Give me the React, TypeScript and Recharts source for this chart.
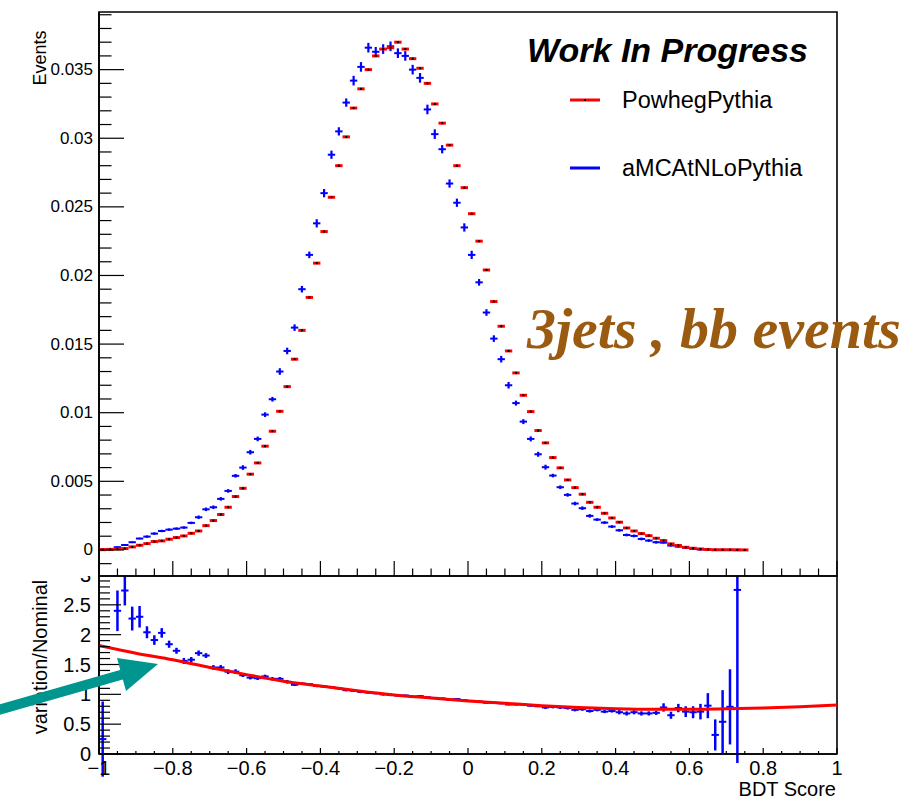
import {
  ComposedChart,
  ErrorBar,
  Line,
  ReferenceArea,
  Scatter,
  XAxis,
  YAxis,
} from "recharts";

// 100 bins of 0.02 on [-1, 1]; index i -> bin centre
const BIN_WIDTH = 0.02;

// top pad: normalised BDT score, PowhegPythia (nominal) and aMCAtNLoPythia
const powheg = [
  0.00002, 0.00004, 0.00008, 0.0001, 0.00022, 0.00034, 0.00046, 0.00061, 0.00066, 0.00078,
  0.0009, 0.00102, 0.00121, 0.00138, 0.00177, 0.00214, 0.00258, 0.00311, 0.00389, 0.00449,
  0.00552, 0.00634, 0.00756, 0.00865, 0.0101, 0.0119, 0.0139, 0.016, 0.0184, 0.0209,
  0.0232, 0.0257, 0.028, 0.0301, 0.0322, 0.0336, 0.035, 0.036, 0.0365, 0.0366,
  0.037, 0.0365, 0.0358, 0.0351, 0.034, 0.0325, 0.0311, 0.0295, 0.028, 0.0264,
  0.0245, 0.0225, 0.0204, 0.0181, 0.0163, 0.0145, 0.0129, 0.01127, 0.01008, 0.0087,
  0.0078, 0.00673, 0.00598, 0.0051, 0.00454, 0.00406, 0.00347, 0.00311, 0.00267, 0.00233,
  0.00202, 0.0016, 0.00138, 0.00119, 0.00104, 0.00085, 0.00068, 0.00044, 0.00032, 0.00019,
  0.00012, 0.00007, 0.00003, 0.00001, 0.00001, 0.00001, 0, 0,
];

const amcatnlo = [
  0.00003, 0.00005, 0.0002, 0.00036, 0.00056, 0.00083, 0.00097, 0.00119, 0.00138, 0.00148,
  0.00155, 0.00163, 0.00197, 0.00238, 0.00296, 0.00311, 0.00372, 0.0043, 0.0054, 0.006,
  0.00712, 0.00809, 0.00986, 0.01098, 0.013, 0.0145, 0.0162, 0.019, 0.0215, 0.0238,
  0.026, 0.0288, 0.0305, 0.0326, 0.0342, 0.0352, 0.0366, 0.0363, 0.0365, 0.0367,
  0.0362, 0.036, 0.035, 0.0344, 0.0321, 0.0303, 0.0292, 0.0267, 0.0253, 0.0235,
  0.0215, 0.0195, 0.0173, 0.0154, 0.0139, 0.012, 0.0107, 0.00935, 0.00809, 0.00697,
  0.00603, 0.00542, 0.00457, 0.00401, 0.00338, 0.00304, 0.00248, 0.00221, 0.00199, 0.0017,
  0.00143, 0.00109, 0.00102, 0.0008, 0.00068, 0.00056, 0.00053, 0.00032, 0.00024, 0.00015,
  0.00007, 0.00003, 0.00002, 0.00001, 0.00001, 0.00001, 0.00001,
];

const amcatnloErr = [
  0.00006, 0.00006, 0.00006, 0.00006, 0.00006, 0.00006, 0.00009, 0.00009, 0.00009, 0.00009,
  0.00009, 0.00009, 0.00009, 0.00013, 0.00013, 0.00013, 0.00013, 0.00013, 0.00013, 0.00017,
  0.00017, 0.00017, 0.00017, 0.00017, 0.00024, 0.00024, 0.00024, 0.00024, 0.00024, 0.0003,
  0.0003, 0.0003, 0.0003, 0.0003, 0.00035, 0.00035, 0.00035, 0.00035, 0.00035, 0.00035,
  0.00035, 0.00035, 0.00035, 0.00035, 0.00035, 0.00035, 0.0003, 0.0003, 0.0003, 0.0003,
  0.0003, 0.00024, 0.00024, 0.00024, 0.00024, 0.00024, 0.00018, 0.00018, 0.00018, 0.00018,
  0.00018, 0.00013, 0.00013, 0.00013, 0.00013, 0.00013, 0.00013, 0.0001, 0.0001, 0.0001,
  0.0001, 0.0001, 0.0001, 0.0001, 0.0001, 0.0001, 0.00007, 0.00007, 0.00007, 0.00007,
  0.00007, 0.00007, 0.00007, 0.00007, 0.00007, 0.00007, 0.00007,
];

// bottom pad: variation / nominal
const ratio = [
  0.25, null, 2.4, 2.74, 2.27, 2.3, 2.04, 1.91, 2.03, 1.84,
  1.73, 1.56, 1.58, 1.69, 1.65, 1.45, 1.45, 1.38, 1.38, 1.32,
  1.28, 1.27, 1.3, 1.26, 1.26, 1.21, 1.16, 1.18, 1.17, 1.14,
  1.13, 1.12, 1.1, 1.07, 1.06, 1.04, 1.03, 1.02, 1.0, 0.99,
  0.98, 0.98, 0.96, 0.97, 0.95, 0.94, 0.93, 0.91, 0.92, 0.9,
  0.89, 0.88, 0.86, 0.86, 0.85, 0.83, 0.83, 0.83, 0.81, 0.8,
  0.78, 0.79, 0.78, 0.77, 0.74, 0.75, 0.72, 0.74, 0.71, 0.72,
  0.7, 0.68, 0.7, 0.68, 0.68, 0.69, 0.78, 0.65, 0.77, 0.71,
  0.7, 0.71, 0.81, 0.32, 0.54, 0.79, 2.75,
];

const ratioErr = [
  0.63, 0, 0.34, 0.25, 0.2, 0.18, 0.1, 0.08, 0.08, 0.06,
  0.05, 0.05, 0.045, 0.045, 0.04, 0.04, 0.04, 0.04, 0.04, 0.03,
  0.03, 0.03, 0.03, 0.03, 0.03, 0.03, 0.02, 0.02, 0.02, 0.02,
  0.02, 0.02, 0.02, 0.02, 0.02, 0.02, 0.02, 0.02, 0.02, 0.02,
  0.015, 0.015, 0.015, 0.015, 0.015, 0.015, 0.015, 0.015, 0.015, 0.015,
  0.015, 0.015, 0.015, 0.015, 0.015, 0.015, 0.015, 0.015, 0.015, 0.015,
  0.025, 0.025, 0.025, 0.025, 0.025, 0.025, 0.025, 0.025, 0.025, 0.025,
  0.035, 0.035, 0.035, 0.035, 0.035, 0.035, 0.07, 0.06, 0.07, 0.09,
  0.1, 0.13, 0.21, 0.26, 0.53, 0.63, 2.9,
];

// fitted curve through the ratio
const fitX = [-1, -0.9, -0.8, -0.7, -0.6, -0.5, -0.4, -0.3, -0.2, -0.1, 0, 0.1, 0.2, 0.3, 0.4, 0.5, 0.6, 0.7, 0.8, 0.9, 1];
const fitY = [1.82, 1.69, 1.58, 1.45, 1.33, 1.22, 1.14, 1.06, 0.99, 0.94, 0.89, 0.85, 0.81, 0.78, 0.76, 0.75, 0.75, 0.76, 0.77, 0.79, 0.82];

// axis labels
const xMajorTicks = [-1, -0.8, -0.6, -0.4, -0.2, 0, 0.2, 0.4, 0.6, 0.8, 1];
const xTickLabels = ["\u22121", "\u22120.8", "\u22120.6", "\u22120.4", "\u22120.2", "0", "0.2", "0.4", "0.6", "0.8", "1"];
const topYMajorTicks = [0, 0.005, 0.01, 0.015, 0.02, 0.025, 0.03, 0.035];
const topYTickLabels = ["0", "0.005", "0.01", "0.015", "0.02", "0.025", "0.03", "0.035"];
const ratioYMajorTicks = [0, 0.5, 1, 1.5, 2, 2.5, 3];
const ratioYTickLabels = ["0", "0.5", "1", "1.5", "2", "2.5", "3"];

const TOP_Y_DOMAIN: [number, number] = [-0.0019, 0.0392];
const RATIO_Y_DOMAIN: [number, number] = [0, 3];

const FONT = '"Liberation Sans", Arial, Helvetica, sans-serif';
const RED = "#ff0000";
const BLUE = "#0000ff";

const binCenter = (i: number) => -1 + BIN_WIDTH * (i + 0.5);

const powhegData = powheg.map((y, i) => ({ x: binCenter(i), y, ex: BIN_WIDTH / 2 }));
const amcData = amcatnlo.map((y, i) => ({ x: binCenter(i), y, ex: BIN_WIDTH / 2, ey: amcatnloErr[i] }));
const ratioData = ratio
  .map((y, i) => ({ x: binCenter(i), y, ex: BIN_WIDTH / 2, ey: ratioErr[i] }))
  .filter((d) => d.y !== null);
const fitData = fitX.map((x, i) => ({ x, y: fitY[i] }));

const steps = (from: number, to: number, step: number) => {
  const out: number[] = [];
  const n = Math.round((to - from) / step);
  for (let i = 0; i <= n; i++) out.push(Number((from + i * step).toFixed(6)));
  return out;
};

const xTicks = steps(-1, 1, 0.05);
const topYTicks = steps(-0.001, 0.039, 0.001);
const ratioYTicks = steps(0, 3, 0.1);

const labelOf = (v: number, majors: number[], labels: string[]) => {
  const idx = majors.findIndex((m) => Math.abs(m - v) < 1e-9);
  return idx >= 0 ? labels[idx] : null;
};

function TopXTick({ x, y, payload }: any) {
  const major = labelOf(payload.value, xMajorTicks, xTickLabels) !== null;
  return <line x1={x} x2={x} y1={y} y2={y - (major ? 15 : 7.5)} stroke="#000" strokeWidth={1.2} />;
}

function RatioXTick({ x, y, payload }: any) {
  const label = labelOf(payload.value, xMajorTicks, xTickLabels);
  return (
    <g>
      <line x1={x} x2={x} y1={y} y2={y - (label ? 6 : 3)} stroke="#000" strokeWidth={1.2} />
      {label && (
        <text x={x} y={y + 14} textAnchor="middle" dominantBaseline="central" fontSize={20} fontFamily={FONT} fill="#000">
          {label}
        </text>
      )}
    </g>
  );
}

function TopYTick({ x, y, payload }: any) {
  const label = labelOf(payload.value, topYMajorTicks, topYTickLabels);
  return (
    <g>
      <line x1={x} x2={x + (label ? 25 : 12.5)} y1={y} y2={y} stroke="#000" strokeWidth={1.2} />
      {label && (
        <text x={x - 6} y={y} textAnchor="end" dominantBaseline="central" fontSize={17} fontFamily={FONT} fill="#000">
          {label}
        </text>
      )}
    </g>
  );
}

function RatioYTick({ x, y, payload }: any) {
  const label = labelOf(payload.value, ratioYMajorTicks, ratioYTickLabels);
  return (
    <g>
      <line x1={x} x2={x + (label ? 22 : 11)} y1={y} y2={y} stroke="#000" strokeWidth={1.2} />
      {label && (
        <text x={x - 8} y={y} textAnchor="end" dominantBaseline="central" fontSize={20} fontFamily={FONT} fill="#000">
          {label}
        </text>
      )}
    </g>
  );
}

const BlackDot = ({ cx, cy }: any) => <rect x={cx - 1} y={cy - 1} width={2} height={2} fill="#000" />;
const NoSymbol = () => <g />;

function TopPad() {
  return (
    <ComposedChart width={913} height={580} margin={{ top: 12, right: 76, bottom: 0, left: 0 }}>
      <XAxis
        type="number"
        dataKey="x"
        domain={[-1, 1]}
        allowDataOverflow
        ticks={xTicks}
        interval={0}
        height={4}
        tickSize={0}
        tickMargin={0}
        tickLine={false}
        tick={(p: any) => <TopXTick {...p} />}
        axisLine={{ stroke: "#000", strokeWidth: 1.6 }}
      />
      <YAxis
        type="number"
        dataKey="y"
        domain={TOP_Y_DOMAIN}
        allowDataOverflow
        ticks={topYTicks}
        interval={0}
        width={99}
        tickSize={0}
        tickMargin={0}
        tickLine={false}
        tick={(p: any) => <TopYTick {...p} />}
        axisLine={{ stroke: "#000", strokeWidth: 1.6 }}
      />
      <ReferenceArea x1={-1} x2={1} y1={TOP_Y_DOMAIN[0]} y2={TOP_Y_DOMAIN[1]} fill="none" stroke="#000" strokeWidth={1.6} ifOverflow="visible" />
      <Scatter data={amcData} shape={NoSymbol} isAnimationActive={false}>
        <ErrorBar dataKey="ex" direction="x" width={0} stroke={BLUE} strokeWidth={2} isAnimationActive={false} />
        <ErrorBar dataKey="ey" direction="y" width={0} stroke={BLUE} strokeWidth={2.2} isAnimationActive={false} />
      </Scatter>
      <Scatter data={powhegData} shape={BlackDot} isAnimationActive={false}>
        <ErrorBar dataKey="ex" direction="x" width={0} stroke={RED} strokeWidth={3} isAnimationActive={false} />
      </Scatter>
    </ComposedChart>
  );
}

function RatioPad() {
  return (
    <ComposedChart width={913} height={800} margin={{ top: 575, right: 76, bottom: 0, left: 0 }}>
      <XAxis
        type="number"
        dataKey="x"
        domain={[-1, 1]}
        allowDataOverflow
        ticks={xTicks}
        interval={0}
        height={46}
        tickSize={0}
        tickMargin={0}
        tickLine={false}
        tick={(p: any) => <RatioXTick {...p} />}
        axisLine={{ stroke: "#000", strokeWidth: 1.6 }}
      />
      <YAxis
        type="number"
        dataKey="y"
        domain={RATIO_Y_DOMAIN}
        allowDataOverflow
        ticks={ratioYTicks}
        interval={0}
        width={99}
        tickSize={0}
        tickMargin={0}
        tickLine={false}
        tick={(p: any) => <RatioYTick {...p} />}
        axisLine={{ stroke: "#000", strokeWidth: 1.6 }}
      />
      <ReferenceArea x1={-1} x2={1} y1={0} y2={3} fill="none" stroke="#000" strokeWidth={1.6} ifOverflow="visible" />
      <Scatter data={ratioData} shape={NoSymbol} isAnimationActive={false}>
        <ErrorBar dataKey="ex" direction="x" width={0} stroke={BLUE} strokeWidth={2} isAnimationActive={false} />
        <ErrorBar dataKey="ey" direction="y" width={0} stroke={BLUE} strokeWidth={2.5} isAnimationActive={false} />
      </Scatter>
      <Line data={fitData} dataKey="y" type="monotone" stroke={RED} strokeWidth={3} dot={false} isAnimationActive={false} />
    </ComposedChart>
  );
}

function Annotations() {
  return (
    <svg width={913} height={800} style={{ position: "absolute", left: 0, top: 0, pointerEvents: "none" }}>
      <text x={808} y={50} textAnchor="end" dominantBaseline="central" fontSize={34} fontWeight="bold" fontStyle="italic" fontFamily={FONT}>
        Work In Progress
      </text>
      <line x1={570} x2={600} y1={100} y2={100} stroke={RED} strokeWidth={3} />
      <rect x={584} y={99} width={2} height={2} fill="#000" />
      <text x={622} y={100} dominantBaseline="central" fontSize={23.5} fontFamily={FONT}>
        PowhegPythia
      </text>
      <line x1={570} x2={600} y1={168} y2={168} stroke={BLUE} strokeWidth={3} />
      <text x={622} y={168} dominantBaseline="central" fontSize={23.5} fontFamily={FONT}>
        aMCAtNLoPythia
      </text>
      <text
        x={527}
        y={328}
        dominantBaseline="central"
        fontSize={58}
        fontWeight="bold"
        fontStyle="italic"
        fontFamily='"Liberation Serif", "DejaVu Serif", serif'
        fill="#9a5a10"
      >
        3jets , bb events
      </text>
      <text x={40} y={58} transform="rotate(-90 40 58)" textAnchor="middle" dominantBaseline="central" fontSize={18} fontFamily={FONT}>
        Events
      </text>
      <text x={40} y={657} transform="rotate(-90 40 657)" textAnchor="middle" dominantBaseline="central" fontSize={20} fontFamily={FONT}>
        variation/Nominal
      </text>
      <text x={836} y={789} textAnchor="end" dominantBaseline="central" fontSize={20} fontFamily={FONT}>
        BDT Score
      </text>
      <line x1={-5} y1={711} x2={124} y2={674} stroke="#00968f" strokeWidth={10} />
      <polygon points="158,664 126,691 117,658" fill="#00968f" />
    </svg>
  );
}

export default function App() {
  return (
    <div style={{ position: "absolute", left: 0, top: 0, width: 913, height: 800, background: "#fff", fontFamily: FONT, overflow: "hidden" }}>
      <div style={{ position: "absolute", left: 0, top: 0 }}>
        <RatioPad />
      </div>
      <div style={{ position: "absolute", left: 0, top: 0, width: 913, height: 576, background: "#fff" }}>
        <TopPad />
      </div>
      <Annotations />
    </div>
  );
}
